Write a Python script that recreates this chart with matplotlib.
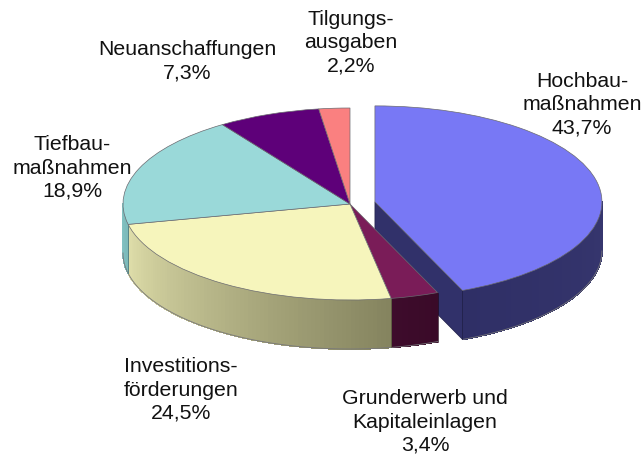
import matplotlib
matplotlib.use('Agg')
import matplotlib.pyplot as plt
import numpy as np
from matplotlib.collections import PolyCollection
from matplotlib.colors import to_rgb

plt.rcParams['font.family'] = ['Liberation Sans', 'DejaVu Sans']

labels = ['Hochbau-\nmaßnahmen', 'Grunderwerb und\nKapitaleinlagen', 'Investitions-\nförderungen',
          'Tiefbau-\nmaßnahmen', 'Neuanschaffungen', 'Tilgungs-\nausgaben']
values = [43.7, 3.4, 24.5, 18.9, 7.3, 2.2]
explode = [0.112, 0, 0, 0, 0, 0]

top_colors = ['#7878F5', '#7A1C58', '#F6F5BC', '#9AD9D9', '#5E0079', '#FA8080']
wall_left = ['#2F2F66', '#3E0C2C', '#E0DFAB', '#84C4C4', '#000000', '#000000']
wall_right = ['#36366E', '#3A0A28', '#85845F', '#7CBABA', '#000000', '#000000']
cut_color = '#31316A'

label_x = [582, 425, 181, 72, 187, 351]
label_y = [105, 422, 390, 168, 61, 43]

# pixel geometry of the main body
width, height = 644, 457
cx, cy = 350, 204
rx, ry = 227, 96
depth = 49 / ry


def wall_strips(start, end, dx, dy, col_a, col_b):
    # front part of the rim only, split into thin strips for the gradient
    a0, a1 = max(start, -np.pi), min(end, 0)
    if a1 <= a0:
        return None, None
    t = np.linspace(a0, a1, 80)
    x = np.cos(t) + dx
    y = np.sin(t) + dy
    polys = []
    cols = []
    ca, cb = np.array(to_rgb(col_a)), np.array(to_rgb(col_b))
    for i in range(len(t) - 1):
        polys.append([(x[i], y[i]), (x[i + 1], y[i + 1]), (x[i + 1], y[i + 1] - depth), (x[i], y[i] - depth)])
        cols.append(ca + (cb - ca) * i / (len(t) - 2))
    return polys, cols


fig = plt.figure(figsize=(width / 100, height / 100), dpi=100)
ax = fig.add_axes([0, 0, 1, 1])

wedges, _ = ax.pie(values, explode=explode, colors=top_colors, startangle=90, counterclock=False,
                   radius=1, wedgeprops={'linewidth': 0.5, 'edgecolor': '#6a6a70'})
ax.set_aspect('auto')
ax.set_xlim(-cx / rx, (width - cx) / rx)
ax.set_ylim(-(height - cy) / ry, cy / ry)
ax.axis('off')

fractions = np.array(values) / sum(values)
ends = np.pi / 2 - 2 * np.pi * np.cumsum(fractions)
starts = ends + 2 * np.pi * fractions

for i in range(len(values)):
    wedges[i].set_zorder(5)
    mid = (starts[i] + ends[i]) / 2
    dx = explode[i] * np.cos(mid)
    dy = explode[i] * np.sin(mid)
    lo, hi = ends[i], starts[i]
    polys, cols = wall_strips(lo, hi, dx, dy, wall_left[i], wall_right[i])
    if polys is None:
        continue
    z = 1 if explode[i] > 0 else 2
    ax.add_collection(PolyCollection(polys, facecolors=cols, edgecolors=cols, linewidths=0.6,
                                     antialiased=False, zorder=z))
    t = np.linspace(max(lo, -np.pi), min(hi, 0), 80)
    ax.plot(np.cos(t) + dx, np.sin(t) + dy - depth, color='#77777a', lw=0.6, zorder=z)
    # dark line only where two slices meet, not at the silhouette
    for a, c in ((lo, wall_left[i]), (hi, wall_right[i])):
        if -np.pi < a < 0:
            line_col = np.array(to_rgb(c)) * 0.6
            ax.plot([np.cos(a) + dx] * 2, [np.sin(a) + dy, np.sin(a) + dy - depth], color=line_col, lw=0.5, zorder=z)
    if explode[i] > 0:
        # cut face towards the rest of the pie
        ex, ey = np.cos(lo) + dx, np.sin(lo) + dy
        ax.fill([dx, ex, ex, dx], [dy, ey, ey - depth, dy - depth], facecolor=cut_color,
                edgecolor='#22224a', lw=0.5, zorder=z)

for name, val, lx, ly in zip(labels, values, label_x, label_y):
    txt = name + '\n' + f'{val:.1f}%'.replace('.', ',')
    fig.text(lx / width, 1 - ly / height, txt, ha='center', va='center', fontsize=15.3,
             linespacing=1.28, color='#111111')

fig.savefig('out.png', dpi=100)
